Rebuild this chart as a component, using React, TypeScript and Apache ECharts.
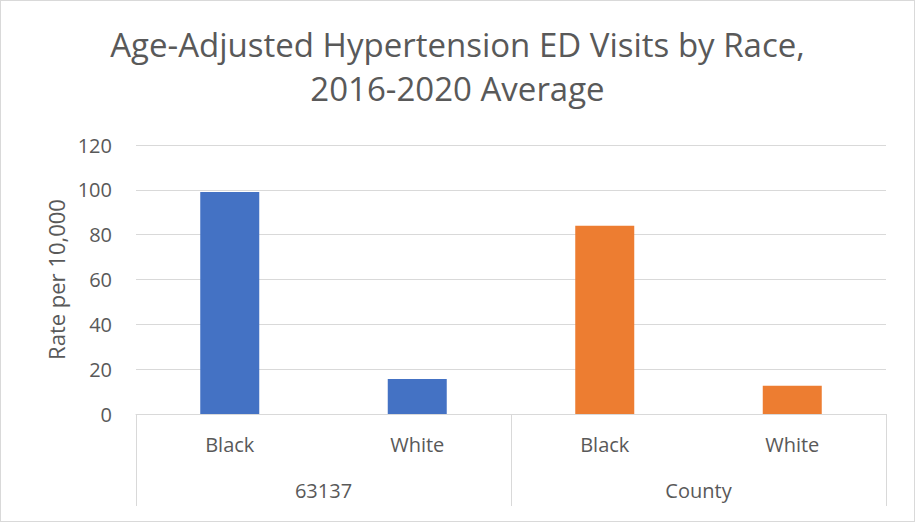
import React, { useEffect, useRef } from "react";
import * as echarts from "echarts";

const raceLabels = ["Black", "White", "Black", "White"];
const groupLabels = ["63137", "County"];
const series63137 = [99, 15.6, null, null];
const seriesCounty = [null, null, 84, 12.6];
const yTicks = { min: 0, max: 120, interval: 20 };

const FONT = "'Open Sans', 'Noto Sans', sans-serif";

export default function App() {
  const ref = useRef<HTMLDivElement>(null);
  useEffect(() => {
    document.body.style.margin = "0";
    const chart = echarts.init(ref.current!, null, { renderer: "svg" });
    chart.setOption({
      animation: false,
      backgroundColor: "#ffffff",
      title: {
        text: "Age-Adjusted Hypertension ED Visits by Race,\n2016-2020 Average",
        left: "center",
        top: 16,
        textStyle: {
          fontFamily: FONT,
          fontSize: 33,
          fontWeight: "normal",
          color: "#595959",
          lineHeight: 44,
        },
      },
      grid: { left: 135, right: 28, top: 144, bottom: 107 },
      xAxis: [
        {
          type: "category",
          data: raceLabels,
          position: "bottom",
          axisLine: { show: true, lineStyle: { color: "#d9d9d9", width: 1 } },
          axisTick: { show: false },
          axisLabel: { margin: 20, fontFamily: FONT, fontSize: 20, color: "#595959" },
        },
        {
          type: "category",
          data: groupLabels,
          position: "bottom",
          axisLine: { show: false },
          axisTick: { show: true, length: 92, lineStyle: { color: "#d9d9d9", width: 1 } },
          axisLabel: { margin: 66, fontFamily: FONT, fontSize: 20, color: "#595959" },
        },
      ],
      yAxis: {
        type: "value",
        min: yTicks.min,
        max: yTicks.max,
        interval: yTicks.interval,
        name: "Rate per 10,000",
        nameLocation: "middle",
        nameGap: 68,
        nameRotate: 90,
        nameTextStyle: { fontFamily: FONT, fontSize: 22, color: "#595959" },
        axisLine: { show: false },
        axisTick: { show: false },
        axisLabel: { margin: 24, fontFamily: FONT, fontSize: 20, color: "#595959" },
        splitLine: { lineStyle: { color: "#d9d9d9", width: 1 } },
      },
      series: [
        {
          name: "63137",
          type: "bar",
          stack: "s",
          data: series63137,
          barWidth: 59,
          itemStyle: { color: "#4472c4" },
        },
        {
          name: "County",
          type: "bar",
          stack: "s",
          data: seriesCounty,
          barWidth: 59,
          itemStyle: { color: "#ed7d31" },
        },
      ],
    });
    return () => chart.dispose();
  }, []);
  return (
    <div
      ref={ref}
      style={{
        position: "fixed",
        left: 0,
        top: 0,
        width: 913,
        height: 520,
        border: "1px solid #d9d9d9",
      }}
    />
  );
}
